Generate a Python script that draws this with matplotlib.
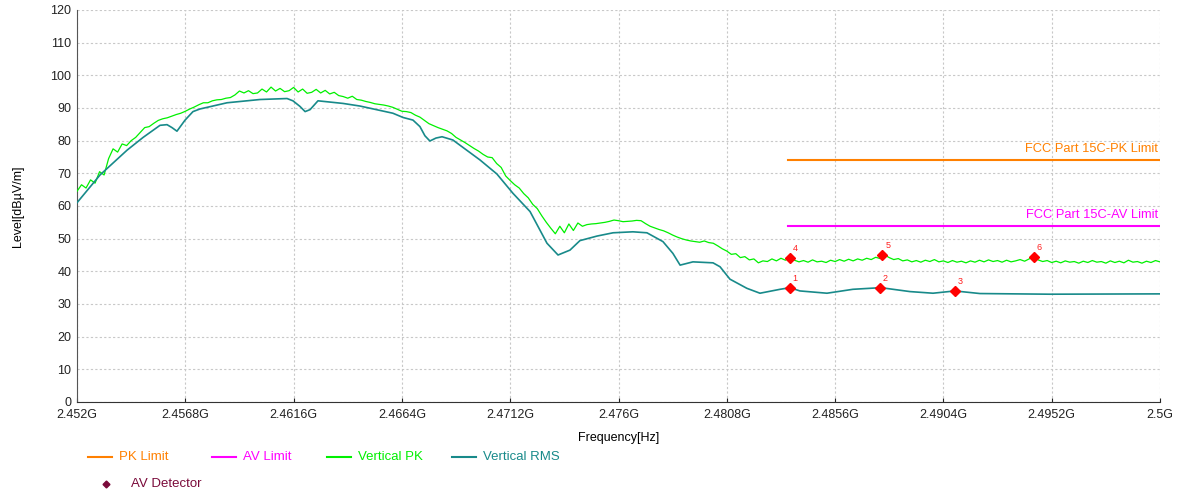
import numpy as np
import matplotlib
matplotlib.use('Agg')
import matplotlib.pyplot as plt
from matplotlib.lines import Line2D

plt.rcParams['font.family'] = ['Liberation Sans', 'DejaVu Sans']

# frequency sweep of the PK trace, GHz (0.2 MHz step)
pk_freq = np.linspace(2.452, 2.5, 241)

# Vertical PK, dBuV/m
pk_level = [
    64.5, 66.5, 65.5, 68.0, 67.0, 70.5, 69.5, 74.5, 77.5, 76.5,
    79.0, 78.5, 80.0, 81.0, 82.5, 84.0, 84.3, 85.3, 86.2, 86.7,
    87.0, 87.5, 88.0, 88.4, 89.0, 89.7, 90.3, 91.0, 91.6, 91.6,
    92.2, 92.5, 92.6, 93.0, 93.2, 94.0, 95.2, 94.6, 95.3, 94.4,
    94.6, 95.8, 94.9, 96.4, 95.2, 96.0, 95.0, 95.3, 96.3, 94.9,
    95.8, 94.5, 94.8, 95.7, 94.6, 95.4, 94.3, 94.8, 93.8, 93.5,
    93.0, 93.6, 92.6, 92.4, 92.0, 91.7, 91.3, 91.1, 90.9, 90.6,
    90.2, 89.6, 89.0, 88.9, 88.6, 87.8, 87.2, 86.2, 85.2, 84.6,
    84.0, 83.5, 83.0, 82.2, 81.0, 80.2, 79.4, 78.5, 77.6, 76.8,
    75.8, 75.0, 74.8, 73.0, 71.8, 69.2, 67.8, 66.5, 65.5, 63.8,
    62.5, 60.5, 59.2, 57.0, 55.0, 53.2, 51.5, 53.8, 51.8, 54.5,
    52.5, 54.8, 53.8, 54.3, 54.5, 54.6, 54.8, 55.0, 55.3, 55.7,
    55.5, 55.2, 55.3, 55.4, 55.6, 55.5, 54.6, 53.8, 53.3, 52.8,
    52.4, 51.8, 51.1, 50.5, 50.0, 49.6, 49.3, 49.1, 48.9, 49.3,
    48.8, 48.6, 47.8, 46.9, 46.2, 45.2, 45.4, 44.2, 44.5, 43.5,
    43.8, 42.6, 43.2, 43.0, 43.8, 43.2, 44.0, 43.4, 44.2, 43.4,
    42.9, 43.3, 42.8, 43.5, 42.9, 43.1, 42.7, 43.4, 43.0, 43.6,
    43.1, 43.7, 43.2, 43.8, 43.4, 44.0, 43.6, 44.3, 43.9, 45.0,
    44.2, 43.6, 43.9, 43.2, 43.5, 42.9, 43.3, 42.8, 43.4, 43.0,
    43.6, 42.9, 43.2, 42.7, 43.3, 42.8, 43.1, 42.6, 43.2, 42.8,
    43.4, 42.9, 43.5, 43.0, 43.3, 42.8, 43.4, 42.9, 43.2, 43.6,
    43.1, 43.8, 44.4, 43.5, 43.0, 43.3, 42.7, 43.1, 42.6, 43.2,
    42.8, 43.0, 42.5, 43.1, 42.7, 43.3, 42.8, 43.0, 42.5, 43.2,
    42.7, 43.1, 42.6, 43.4, 42.8, 43.0, 42.5, 43.1, 42.7, 43.3,
    42.9,
]

# Vertical RMS
rms_freq = [
    2.4520, 2.45302, 2.45422, 2.45493, 2.45568, 2.45599, 2.45621, 2.45643,
    2.45679, 2.45714, 2.45745, 2.45865, 2.46011, 2.46131, 2.46157, 2.46188,
    2.46211, 2.46233, 2.46268, 2.46379, 2.46454, 2.46600, 2.46645, 2.46689,
    2.46720, 2.46742, 2.46764, 2.46791, 2.46818, 2.46866, 2.46986, 2.47061,
    2.47132, 2.47208, 2.47283, 2.47332, 2.47385, 2.47429, 2.47505, 2.47576,
    2.47664, 2.47726, 2.47797, 2.47841, 2.47873, 2.47930, 2.48019, 2.48050,
    2.48094, 2.48169, 2.48227, 2.48316, 2.48360, 2.48404, 2.48524, 2.48639,
    2.48763, 2.48892, 2.48994, 2.49091, 2.49202, 2.49512, 2.5000,
]
rms_level = [
    61.0, 69.5, 77.1, 81.0, 84.7, 84.9, 84.0, 82.9,
    86.3, 88.9, 89.7, 91.6, 92.6, 92.9, 92.2, 90.5,
    88.9, 89.5, 92.2, 91.4, 90.6, 88.4, 87.1, 86.3,
    84.3, 81.5, 79.9, 80.8, 81.2, 80.2, 74.1, 69.8,
    63.9, 58.3, 48.6, 45.0, 46.5, 49.4, 50.8, 51.8,
    52.1, 51.8, 49.1, 45.5, 41.9, 42.9, 42.6, 41.4,
    37.6, 34.8, 33.3, 34.5, 35.0, 34.0, 33.3, 34.5,
    35.0, 33.8, 33.3, 34.0, 33.2, 33.0, 33.1,
]

# FCC Part 15C limits (restricted band 2483.5 - 2500 MHz)
limit_freq = [2.4835, 2.5]
pk_limit = [74, 74]
av_limit = [54, 54]

# detector markers
mark_no = ['1', '2', '3', '4', '5', '6']
mark_freq = [2.4836, 2.4876, 2.4909, 2.4836, 2.4877, 2.4944]
mark_level = [35.0, 35.0, 34.0, 44.2, 45.0, 44.4]

xticks = [2.452, 2.4568, 2.4616, 2.4664, 2.4712, 2.476, 2.4808,
          2.4856, 2.4904, 2.4952, 2.5]
xtick_labels = ['2.452G', '2.4568G', '2.4616G', '2.4664G', '2.4712G', '2.476G',
                '2.4808G', '2.4856G', '2.4904G', '2.4952G', '2.5G']

c_pk_lim = '#ff8000'
c_av_lim = '#ff00ff'
c_pk = '#00f000'
c_rms = '#188a8a'
c_det = '#7a0a3a'

W, H = 1179, 495
fig = plt.figure(figsize=(W / 100, H / 100), dpi=100)
ax = fig.add_axes([77 / W, 1 - 402 / H, (1160 - 77) / W, 392 / H])

ax.plot(limit_freq, pk_limit, color=c_pk_lim, lw=1.5, zorder=3)
ax.plot(limit_freq, av_limit, color=c_av_lim, lw=1.5, zorder=3)
ax.plot(pk_freq, pk_level, color=c_pk, lw=0.9, zorder=4)
ax.plot(rms_freq, rms_level, color=c_rms, lw=1.2, zorder=4)
ax.plot(mark_freq, mark_level, 'D', color='#ff0000', ms=5, ls='none', zorder=5)
for n, f, v in zip(mark_no, mark_freq, mark_level):
    ax.annotate(n, (f, v), xytext=(2, 5), textcoords='offset points',
                color='#ff2020', fontsize=6.5)

ax.text(2.4999, 75.5, 'FCC Part 15C-PK Limit', color=c_pk_lim, fontsize=9.3,
        ha='right', va='bottom')
ax.text(2.4999, 55.5, 'FCC Part 15C-AV Limit', color=c_av_lim, fontsize=9.3,
        ha='right', va='bottom')

ax.set_xlim(2.452, 2.5)
ax.set_ylim(0, 120)
ax.set_xticks(xticks)
ax.set_xticklabels(xtick_labels)
ax.set_yticks(range(0, 121, 10))
ax.tick_params(axis='both', labelsize=9, colors='#222222', length=3,
               direction='in')
ax.tick_params(axis='x', pad=5)
ax.tick_params(axis='y', length=0, pad=4)
ax.grid(True, ls=(0, (2, 2)), color='#c8c8c8', lw=0.8)
for s in ['top', 'right']:
    ax.spines[s].set_visible(False)
ax.spines['left'].set_color('#555555')
ax.spines['bottom'].set_color('#333333')

ax.set_xlabel('Frequency[Hz]', fontsize=9, labelpad=8)
ax.set_ylabel('Level[dBµV/m]', fontsize=9, labelpad=19)

# legend drawn item by item at the reference positions (pixels)
leg_items = [
    (88, 457, 'line', c_pk_lim, 'PK Limit'),
    (212, 457, 'line', c_av_lim, 'AV Limit'),
    (327, 457, 'line', c_pk, 'Vertical PK'),
    (452, 457, 'line', c_rms, 'Vertical RMS'),
    (100, 484, 'mark', c_det, 'AV Detector'),
]
for x0, y0, kind, col, lab in leg_items:
    yf = 1 - y0 / H
    if kind == 'line':
        fig.add_artist(Line2D([x0 / W, (x0 + 24) / W], [yf, yf], color=col,
                              lw=1.5, transform=fig.transFigure))
    else:
        fig.add_artist(Line2D([(x0 + 6) / W], [yf], color=col, marker='D',
                              ms=3.5, ls='none', transform=fig.transFigure))
    fig.text((x0 + 31) / W, yf, lab, color=col, fontsize=9.5, ha='left',
             va='center')

fig.savefig('out.png', dpi=100)
